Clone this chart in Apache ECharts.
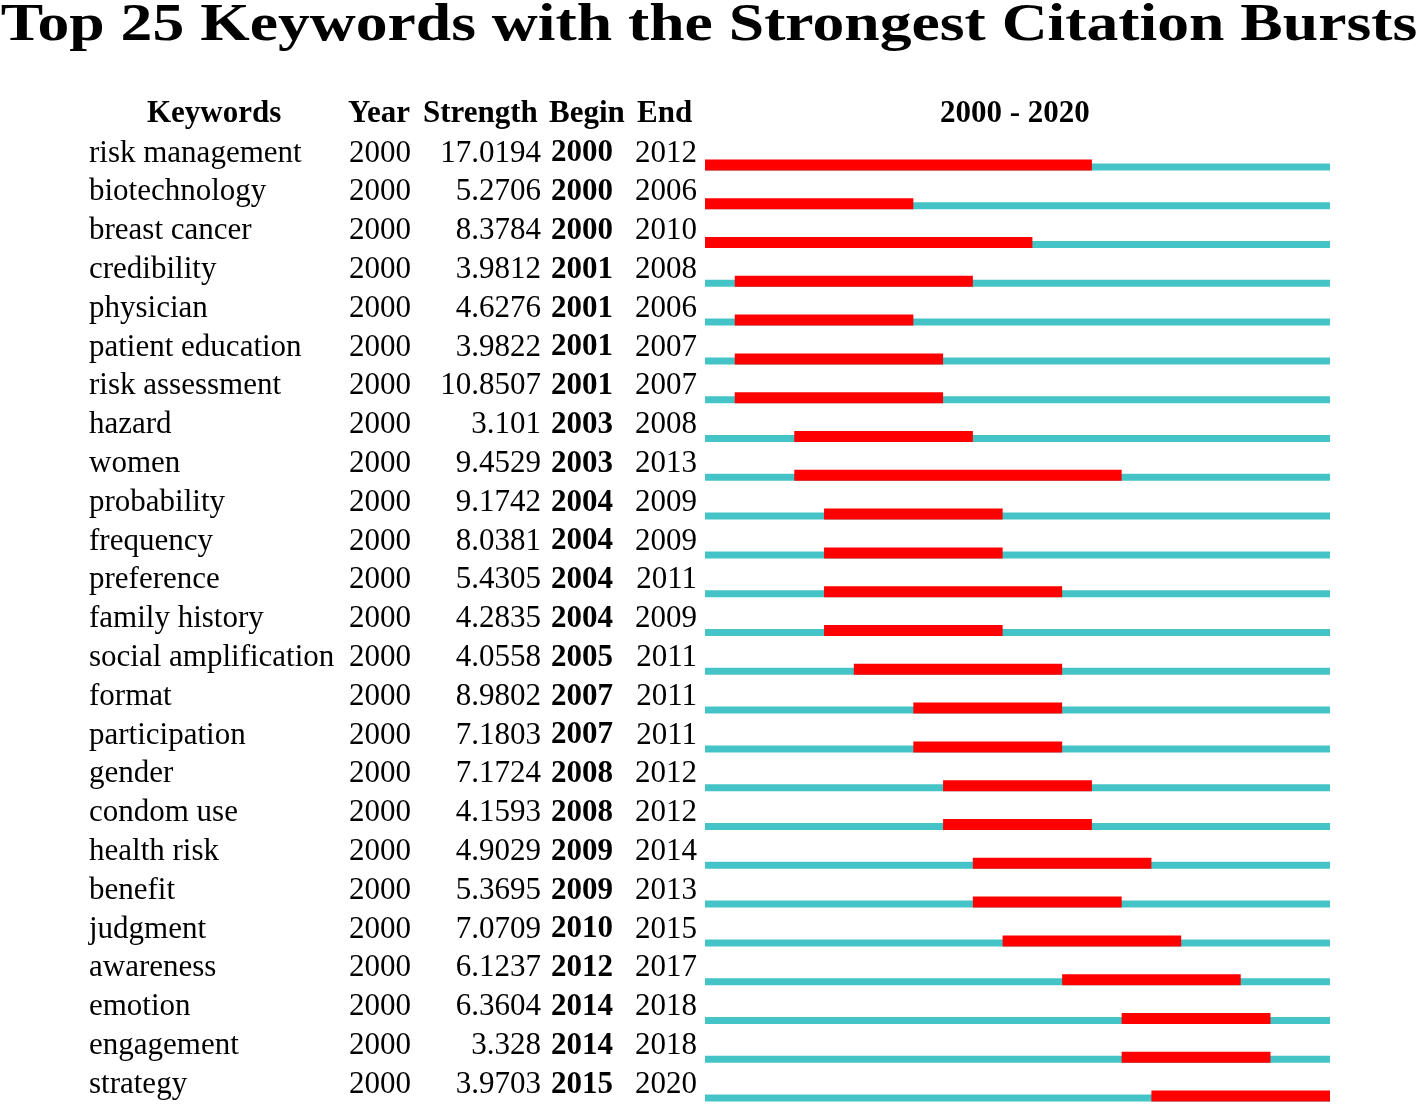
<!DOCTYPE html>
<html>
<head>
<meta charset="utf-8">
<script src="https://cdn.jsdelivr.net/npm/echarts@6/dist/echarts.min.js"></script>
<style>
html, body { margin: 0; padding: 0; background: #fff; }
#chart { width: 1418px; height: 1106px; }
</style>
</head>
<body>
<div id="chart"></div>
<script>
const chart = echarts.init(document.getElementById('chart'));

// table columns
const keywords = ['risk management', 'biotechnology', 'breast cancer', 'credibility', 'physician',
    'patient education', 'risk assessment', 'hazard', 'women', 'probability', 'frequency',
    'preference', 'family history', 'social amplification', 'format', 'participation', 'gender',
    'condom use', 'health risk', 'benefit', 'judgment', 'awareness', 'emotion', 'engagement', 'strategy'];
const years = [2000, 2000, 2000, 2000, 2000, 2000, 2000, 2000, 2000, 2000, 2000, 2000, 2000,
    2000, 2000, 2000, 2000, 2000, 2000, 2000, 2000, 2000, 2000, 2000, 2000];
const strengths = [17.0194, 5.2706, 8.3784, 3.9812, 4.6276, 3.9822, 10.8507, 3.101, 9.4529, 9.1742,
    8.0381, 5.4305, 4.2835, 4.0558, 8.9802, 7.1803, 7.1724, 4.1593, 4.9029, 5.3695, 7.0709,
    6.1237, 6.3604, 3.328, 3.9703];
const begins = [2000, 2000, 2000, 2001, 2001, 2001, 2001, 2003, 2003, 2004, 2004, 2004, 2004,
    2005, 2007, 2007, 2008, 2008, 2009, 2009, 2010, 2012, 2014, 2014, 2015];
const ends = [2012, 2006, 2010, 2008, 2006, 2007, 2007, 2008, 2013, 2009, 2009, 2011, 2009,
    2011, 2011, 2011, 2012, 2012, 2014, 2013, 2015, 2017, 2018, 2018, 2020];
const periodStart = 2000;
const periodEnd = 2020;

const font = 'Liberation Serif';
const fs = 31;
const headFont = 'bold ' + fs + 'px "' + font + '"';

var burstData = keywords.map((k, i) => [i, begins[i], ends[i]]);

// cyan line for the whole period, red block for the burst years
function renderBurst(params, api) {
    var row = api.value(0);
    var a = api.coord([periodStart, row]);
    var b = api.coord([periodEnd + 1, row]);
    var p0 = api.coord([api.value(1), row]);
    var p1 = api.coord([api.value(2) + 1, row]);
    var bottom = a[1] + 17;
    return {
        type: 'group',
        children: [{
            type: 'rect',
            shape: { x: a[0], y: bottom - 7, width: b[0] - a[0], height: 7 },
            style: { fill: '#44c4c6' }
        }, {
            type: 'rect',
            shape: { x: p0[0], y: bottom - 11, width: p1[0] - p0[0], height: 11 },
            style: { fill: '#ff0000' }
        }]
    };
}

var cell = { fontFamily: font, fontSize: fs, color: '#000' };

var option = {
    backgroundColor: '#fff',
    animation: false,
    graphic: [
        {
            type: 'text', x: 709, y: 27, scaleX: 1.224,
            style: {
                text: 'Top 25 Keywords with the Strongest Citation Bursts',
                x: 0, y: 0, align: 'center', verticalAlign: 'middle',
                font: 'bold 52px "' + font + '"', fill: '#000'
            }
        },
        { type: 'text', left: 147, top: 98, style: { text: 'Keywords', font: headFont, fill: '#000' } },
        { type: 'text', left: 348, top: 98, style: { text: 'Year', font: headFont, fill: '#000' } },
        { type: 'text', left: 423, top: 98, style: { text: 'Strength', font: headFont, fill: '#000' } },
        { type: 'text', left: 549, top: 98, style: { text: 'Begin', font: headFont, fill: '#000' } },
        { type: 'text', left: 637, top: 98, style: { text: 'End', font: headFont, fill: '#000' } },
        { type: 'text', left: 940, top: 98, style: { text: periodStart + ' - ' + periodEnd, font: headFont, fill: '#000' } }
    ],
    grid: {
        left: 705,
        right: 88,
        top: 134,
        bottom: 2
    },
    xAxis: {
        type: 'value',
        min: periodStart,
        max: periodEnd + 1,
        show: false
    },
    yAxis: {
        type: 'category',
        inverse: true,
        data: keywords,
        axisLine: { show: false },
        axisTick: { show: false },
        splitLine: { show: false },
        axisLabel: {
            interval: 0,
            margin: 8,
            fontFamily: font,
            fontSize: fs,
            formatter: function (v, i) {
                return '{kw|' + keywords[i] + '}{yr|' + years[i] + '}{st|' + strengths[i] +
                    '}{bg|' + begins[i] + '}{en|' + ends[i] + '}';
            },
            rich: {
                kw: Object.assign({ width: 260, align: 'left' }, cell),
                yr: Object.assign({ width: 62, align: 'left' }, cell),
                st: Object.assign({ width: 130, align: 'right' }, cell),
                bg: Object.assign({ width: 72, align: 'right', fontWeight: 'bold' }, cell),
                en: Object.assign({ width: 84, align: 'right' }, cell)
            }
        }
    },
    series: [{
        type: 'custom',
        renderItem: renderBurst,
        encode: { x: [1, 2], y: 0 },
        data: burstData
    }]
};

chart.setOption(option);
</script>
</body>
</html>
